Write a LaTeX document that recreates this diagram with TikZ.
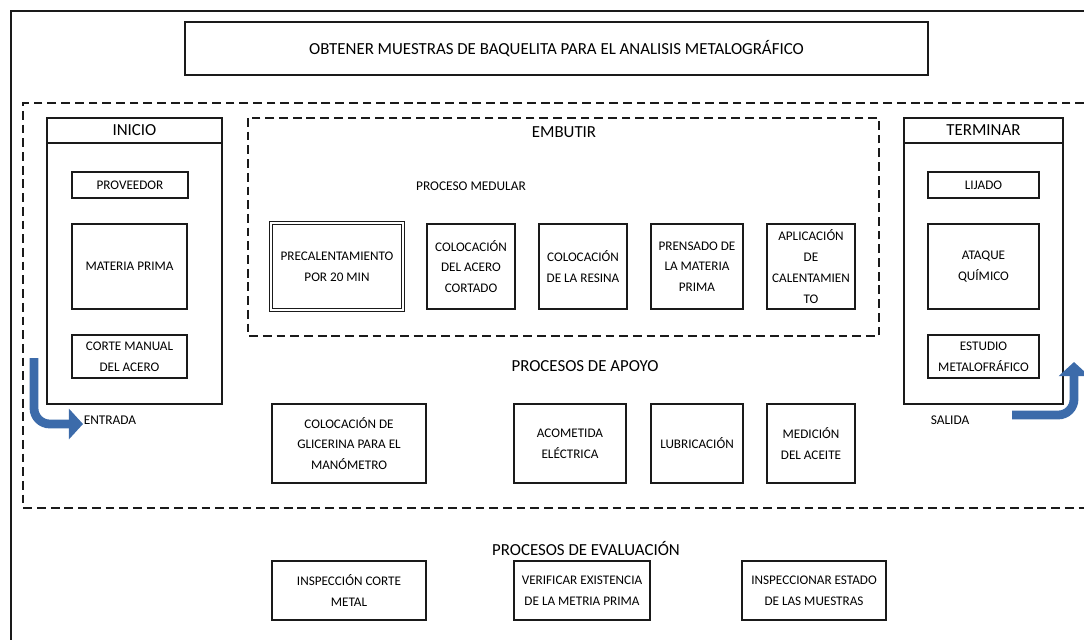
\documentclass[tikz,border=0pt]{standalone}
\usepackage{fontspec}
\setmainfont{Carlito}
\usetikzlibrary{arrows.meta,positioning}
\definecolor{FlowBlue}{HTML}{3C6BAA}
\definecolor{InkDark}{HTML}{1A1A1A}
\tikzset{
  box/.style={draw=InkDark, line width=1.1pt, align=center, inner sep=1pt,
              font=\fontsize{7.5}{11.8}\selectfont},
  group/.style={draw=InkDark, line width=1.1pt},
  grphead/.style={draw=InkDark, line width=1.1pt, anchor=north, inner sep=0pt,
              font=\fontsize{9.6}{12}\selectfont},
  dashzone/.style={draw=InkDark, line width=1.3pt, dash pattern=on 5pt off 2.8pt},
  lbl/.style={font=\fontsize{7.6}{10}\selectfont, inner sep=1pt},
  hdr/.style={font=\fontsize{9.6}{12}\selectfont, inner sep=1pt},
  bigarrow/.style={line width=5pt, draw=FlowBlue, rounded corners=9pt,
              -{Triangle[length=8pt,width=17pt]}},
}

\begin{document}
\begin{tikzpicture}[x=0.02cm, y=-0.02cm]
\useasboundingbox (0,0) rectangle (1084,640);
% ---------------------------------------------------------------- frame and title
\draw[line width=0.6pt, draw=InkDark] (1084,11) -- (11,11) -- (11,640);
\node[box, minimum width=14.86cm, minimum height=1.06cm, font=\fontsize{9.6}{12}\selectfont]
  (title) at (556.5,48.5) {OBTENER MUESTRAS DE BAQUELITA PARA EL ANALISIS METALOGRÁFICO};
\draw[dashzone] (1084,103) -- (23,103) -- (23,508) -- (1084,508);
% ---------------------------------------------------------------- inicio
\node[group, minimum width=3.5cm, minimum height=5.72cm] (inicio) at (134.5,261) {};
\node[grphead, minimum width=3.5cm, minimum height=0.5cm] (inicio-t) at (inicio.north) {INICIO};
\node[box, minimum width=2.32cm, minimum height=0.52cm] (proveedor) at (130,185) {PROVEEDOR};
\node[box, minimum width=2.3cm, minimum height=1.7cm] (materia) at (129.5,266.5) {MATERIA PRIMA};
\node[box, minimum width=2.3cm, minimum height=0.86cm] (corte) at (129.5,356.5) {CORTE MANUAL\\DEL ACERO};
% ---------------------------------------------------------------- embutir
\draw[dashzone] (248,118) rectangle (879,336);
\node[hdr] (embutir) at (564,132) {EMBUTIR};
\node[lbl] (medular) at (471,186) {PROCESO MEDULAR};
\node[box, draw, double, line width=0.5pt, double distance=1.2pt, minimum width=2.64cm, minimum height=1.74cm]
  (precal) at (337,266.5) {PRECALENTAMIENTO\\POR 20 MIN};
\node[box, minimum width=1.76cm, minimum height=1.7cm] (acero) at (471,266.5) {COLOCACIÓN\\DEL ACERO\\CORTADO};
\node[box, minimum width=1.76cm, minimum height=1.7cm] (resina) at (583,266.5) {COLOCACIÓN\\DE LA RESINA};
\node[box, minimum width=1.84cm, minimum height=1.7cm] (prensado) at (697,266.5) {PRENSADO DE\\LA MATERIA\\PRIMA};
\node[box, minimum width=1.76cm, minimum height=1.7cm] (aplica) at (811,266.5) {APLICACIÓN\\DE\\CALENTAMIEN\\TO};
% ---------------------------------------------------------------- terminar
\node[group, minimum width=3.18cm, minimum height=5.72cm] (terminar) at (983.5,261) {};
\node[grphead, minimum width=3.18cm, minimum height=0.5cm] (terminar-t) at (terminar.north) {TERMINAR};
\node[box, minimum width=2.22cm, minimum height=0.52cm] (lijado) at (983.5,185) {LIJADO};
\node[box, minimum width=2.22cm, minimum height=1.7cm] (ataque) at (983.5,266.5) {ATAQUE\\QUÍMICO};
\node[box, minimum width=2.22cm, minimum height=0.86cm] (estudio) at (983.5,356.5) {ESTUDIO\\METALOFRÁFICO};
% ---------------------------------------------------------------- apoyo
\node[hdr] (apoyo) at (585,366) {PROCESOS DE APOYO};
\node[box, minimum width=3.08cm, minimum height=1.58cm] (glicerina) at (349,443.5) {COLOCACIÓN DE\\GLICERINA PARA EL\\MANÓMETRO};
\node[box, minimum width=2.24cm, minimum height=1.58cm] (acometida) at (570,443.5) {ACOMETIDA\\ELÉCTRICA};
\node[box, minimum width=1.84cm, minimum height=1.58cm] (lubrica) at (697,443.5) {LUBRICACIÓN};
\node[box, minimum width=1.76cm, minimum height=1.58cm] (medicion) at (811,443.5) {MEDICIÓN\\DEL ACEITE};
% ---------------------------------------------------------------- evaluacion
\node[hdr] (evalua) at (586,549) {PROCESOS DE EVALUACIÓN};
\node[box, minimum width=3.08cm, minimum height=1.18cm] (inspcorte) at (349,590.5) {INSPECCIÓN CORTE\\METAL};
\node[box, minimum width=2.72cm, minimum height=1.18cm] (verifica) at (582,590.5) {VERIFICAR EXISTENCIA\\DE LA METRIA PRIMA};
\node[box, minimum width=2.88cm, minimum height=1.18cm] (inspestado) at (814,590.5) {INSPECCIONAR ESTADO\\DE LAS MUESTRAS};
% ---------------------------------------------------------------- entrada / salida
\node[lbl] (entrada) at (110,420) {ENTRADA};
\node[lbl] (salida) at (950,420) {SALIDA};
\coordinate (in-start) at (34,358);
\coordinate (in-end) at (83,424);
\draw[bigarrow] (in-start) |- (in-end);
\coordinate (out-start) at (1012,415);
\coordinate (out-end) at (1074,362);
\draw[bigarrow] (out-start) -| (out-end);
\end{tikzpicture}
\end{document}
